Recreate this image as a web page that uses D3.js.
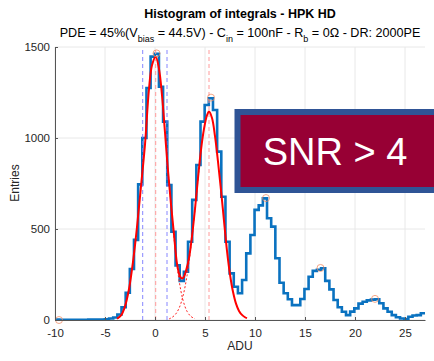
<!DOCTYPE html>
<html><head><meta charset="utf-8">
<script src="https://cdn.jsdelivr.net/npm/d3@7"></script>
<style>
html,body{margin:0;padding:0;background:#fff;}
text{font-family:"Liberation Sans",Arial,Helvetica,sans-serif;}
</style></head>
<body>
<svg id="c" width="434" height="361"></svg>
<script>
// ---- data ----
const histRange = [-10, 27];
const counts = [2,1,1,1,1,1,1,1,2,2,2,3,4,8,14,30,70,150,280,440,745,1000,1275,1447,1462,1282,1090,741,485,300,
  215,265,430,660,852,1090,1181,1218,1154,925,677,430,256,183,147,220,366,467,605,630,
  668,559,513,339,205,147,114,82,82,115,170,238,270,276,284,215,168,110,70,45,
  27,46,64,90,100,108,112,114,92,64,45,27,15,8,5,18,25,27,37];
const fitX = [-3.8,-3.4,-3.0,-2.6,-2.2,-1.8,-1.4,-1.0,-0.6,-0.3,0.07,0.4,0.7,1.0,1.3,1.6,1.9,2.2,2.5,2.7,2.9,3.1,3.4,3.7,4.0,4.3,4.6,4.9,5.2,5.4,5.7,6.0,6.3,6.6,6.9,7.2,7.5,7.8,8.1,8.4,8.7,9.0,9.2];
const fitY = [8,25,75,170,320,510,735,965,1270,1400,1447,1380,1235,1030,820,635,470,310,240,228,238,270,340,460,610,780,935,1050,1125,1145,1110,1010,870,714,545,380,250,155,90,50,28,15,10];
const comp1X = [1.2,1.6,2.0,2.4,2.8,3.2,3.6,4.0];
const comp1Y = [880,642,397,220,109,48,19,7];
const comp2X = [1.4,1.6,2.0,2.4,2.8,3.2,3.6,4.0,4.4];
const comp2Y = [6,11,28,64,132,243,406,611,830];
const peakX = [-9.6,0.15,5.6,11.1,16.55,22.0];
const peakY = [0,1465,1222,670,286,116];
const blueLines = [-1.23,1.2];
const redLines = [0.07,5.4];
const xTicks = [-10,-5,0,5,10,15,20,25];
const yTicks = [0,500,1000,1500];

// ---- layout ----
const svg = d3.select("#c");
const x = d3.scaleLinear().domain(histRange).range([55,425]);
const y = d3.scaleLinear().domain([0,1500]).range([320,47]);

// grid
const g = svg.append("g");
g.selectAll(".vg").data(xTicks).join("line")
  .attr("x1",d=>x(d)).attr("x2",d=>x(d)).attr("y1",y(0)).attr("y2",y(1500))
  .attr("stroke","#e8e8e8").attr("stroke-width",1);
g.selectAll(".hg").data(yTicks).join("line")
  .attr("x1",x(-10)).attr("x2",x(27)).attr("y1",d=>y(d)).attr("y2",d=>y(d))
  .attr("stroke","#e8e8e8").attr("stroke-width",1);

// histogram stairs
const bw = (histRange[1]-histRange[0])/counts.length;
const stairs = [];
counts.forEach((c,i)=>{ stairs.push([histRange[0]+i*bw,c]); stairs.push([histRange[0]+(i+1)*bw,c]); });
svg.append("path").datum(stairs)
  .attr("d",d3.line().x(d=>x(d[0])).y(d=>y(d[1])))
  .attr("fill","none").attr("stroke","#0a72c0").attr("stroke-width",2.6).attr("stroke-linejoin","miter");

// vertical dashed lines
svg.selectAll(".bl").data(blueLines).join("line")
  .attr("x1",d=>x(d)).attr("x2",d=>x(d)).attr("y1",y(0)).attr("y2",y(1500))
  .attr("stroke","#7a7aff").attr("stroke-width",1).attr("stroke-dasharray","4,3").attr("opacity",0.9);
svg.selectAll(".rl").data(redLines).join("line")
  .attr("x1",d=>x(d)).attr("x2",d=>x(d)).attr("y1",y(0)).attr("y2",y(1500))
  .attr("stroke","#ff9a9a").attr("stroke-width",1).attr("stroke-dasharray","4,3");

// fit components
const ln = d3.line().x(d=>x(d[0])).y(d=>y(d[1])).curve(d3.curveCatmullRom);
svg.append("path").datum(comp1X.map((v,i)=>[v,comp1Y[i]])).attr("d",ln)
  .attr("fill","none").attr("stroke","#ff2020").attr("stroke-width",1).attr("stroke-dasharray","2,2");
svg.append("path").datum(comp2X.map((v,i)=>[v,comp2Y[i]])).attr("d",ln)
  .attr("fill","none").attr("stroke","#ff2020").attr("stroke-width",1).attr("stroke-dasharray","2,2");
// fit sum
svg.append("path").datum(fitX.map((v,i)=>[v,fitY[i]])).attr("d",ln)
  .attr("fill","none").attr("stroke","#ff0000").attr("stroke-width",2);

// peak markers
svg.selectAll(".pk").data(peakX).join("circle")
  .attr("cx",d=>x(d)).attr("cy",(d,i)=>y(peakY[i])).attr("r",3.5)
  .attr("fill","none").attr("stroke","#f08a60").attr("stroke-width",1).attr("opacity",0.75);

// axes
const xa = svg.append("g").attr("transform",`translate(0,${y(0)})`)
  .call(d3.axisBottom(x).tickValues(xTicks).tickSizeInner(-3).tickSizeOuter(0).tickPadding(9).tickFormat(d=>String(d)));
const ya = svg.append("g").attr("transform",`translate(${x(-10)},0)`)
  .call(d3.axisLeft(y).tickValues(yTicks).tickSizeInner(-3).tickSizeOuter(0).tickPadding(5).tickFormat(d=>String(d)));
[xa,ya].forEach(a=>{
  a.selectAll("path").attr("stroke","#555");
  a.selectAll("line").attr("stroke","#555");
  a.selectAll("text").attr("fill","#262626").style("font-size","11.5px").style("font-family","'Liberation Sans',Arial,sans-serif");
});

// labels
svg.append("text").attr("x",240).attr("y",350).attr("text-anchor","middle")
  .attr("fill","#262626").style("font-size","12px").text("ADU");
svg.append("text").attr("transform","translate(19,183) rotate(-90)").attr("text-anchor","middle")
  .attr("fill","#262626").style("font-size","12px").text("Entries");

// titles
svg.append("text").attr("x",240).attr("y",18.3).attr("text-anchor","middle")
  .attr("fill","#000").style("font-size","12.5px").style("font-weight","bold").text("Histogram of integrals - HPK HD");
const st = svg.append("text").attr("x",240).attr("y",36.7).attr("text-anchor","middle")
  .attr("fill","#000").style("font-size","12.6px");
const parts = [["PDE = 45%(V",0],["bias",1],[" = 44.5V) - C",0],["in",1],[" = 100nF - R",0],["b",1],[" = 0\u03A9 - DR: 2000PE",0]];
let prevSub = 0;
parts.forEach(([t,s])=>{
  const dy = (s?5:0) - (prevSub?5:0);
  st.append("tspan").attr("dy",dy).style("font-size",s?"9px":"12.6px").text(t);
  prevSub = s;
});

// SNR box
svg.append("rect").attr("x",237.5).attr("y",112).attr("width",200).attr("height",78)
  .attr("fill","#970034").attr("stroke","#2f5496").attr("stroke-width",6);
svg.append("text").attr("x",335).attr("y",165).attr("text-anchor","middle")
  .attr("fill","#fff").style("font-size","38px").text("SNR > 4");
</script>
</body></html>
